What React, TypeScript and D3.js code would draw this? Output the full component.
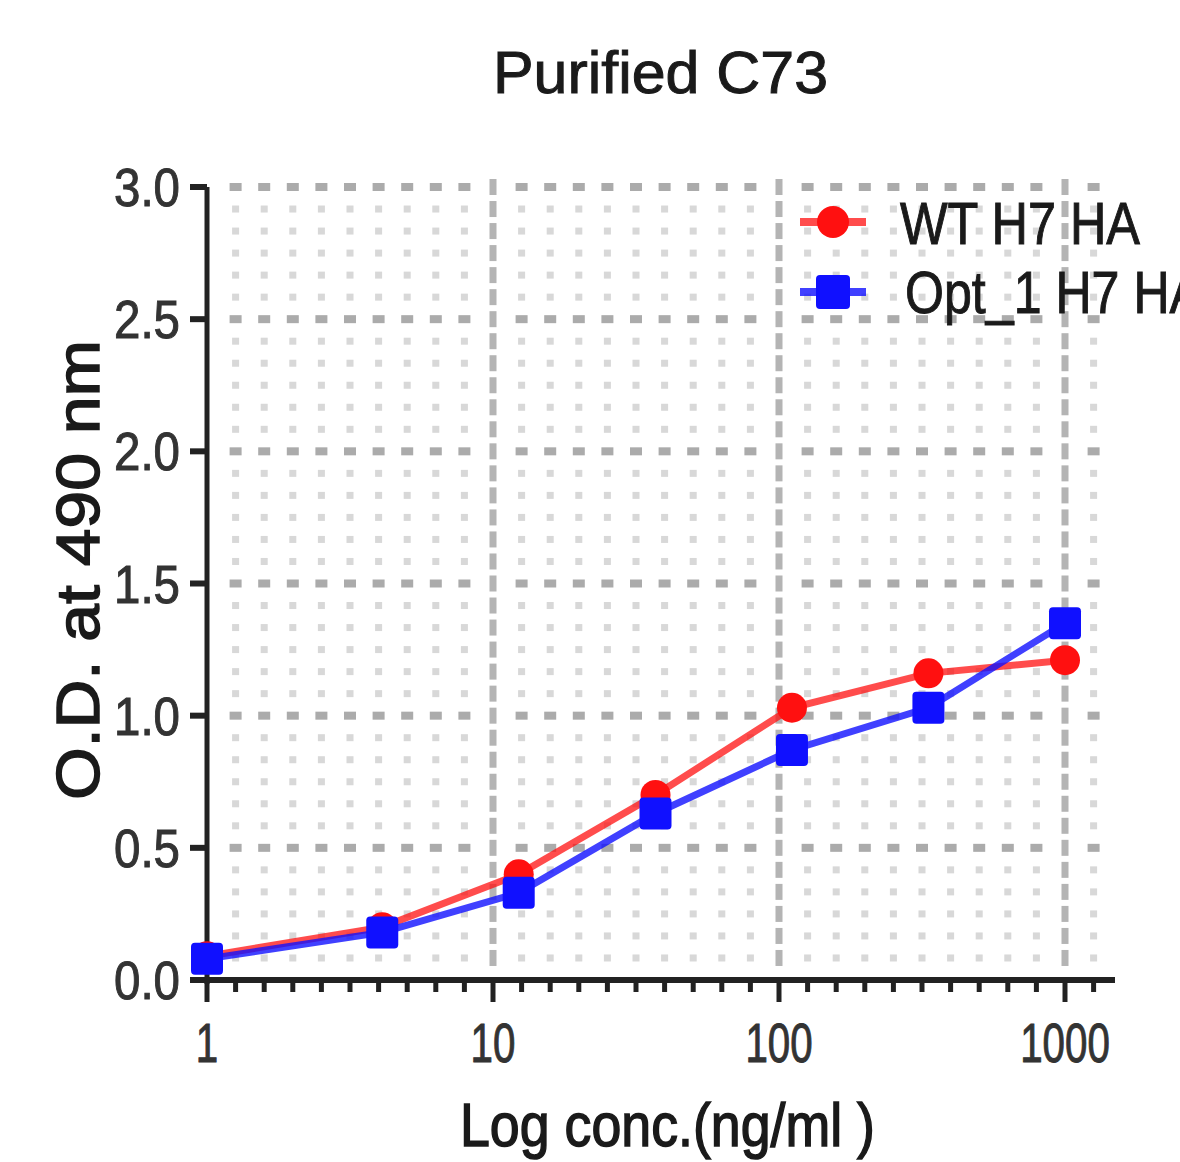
import React from "react";
import * as d3 from "d3";

// concentrations (ng/ml) and O.D. readings
const concentrations = [1, 4.1, 12.3, 37, 111, 333, 1000];
const wtH7HA = [0.09, 0.2, 0.4, 0.7, 1.03, 1.16, 1.21];
const opt1H7HA = [0.08, 0.18, 0.33, 0.63, 0.87, 1.03, 1.35];
const yTicks = [0, 0.5, 1.0, 1.5, 2.0, 2.5, 3.0];
const xTicks = [1, 10, 100, 1000];
const seriesNames = ["WT H7 HA", "Opt_1 H7 HA"];

const W = 1180;
const H = 1162;
const FONT = "'Liberation Sans', Arial, sans-serif";

const App = () => {
  const x = d3.scaleLog().domain([1, 1000]).range([207, 1065]);
  const y = d3.scaleLinear().domain([0, 3]).range([980, 187]);
  const xEnd = 1115;
  const maxLog = Math.log10(x.invert(1105));

  // minor ticks: ten evenly spaced (in log) per decade, like the original
  const minor: number[] = [];
  for (let k = 0; k <= 3; k++) {
    for (let i = 1; i <= 10; i++) {
      const l = k + i / 10;
      if (l <= maxLog + 1e-9) minor.push(Math.pow(10, l));
    }
  }
  const rows: number[] = [];
  for (let j = 1; j <= 36; j++) rows.push(j * (0.5 / 6));

  const line = d3
    .line<number>()
    .x((_, i) => x(concentrations[i]))
    .y((d) => y(d));

  const red = "#ff1010";
  const blue = "#1010ff";

  const isMajorCol = (v: number) => Math.abs(Math.log10(v) - Math.round(Math.log10(v))) < 1e-6;
  const isMajorRow = (v: number) => Math.abs(v / 0.5 - Math.round(v / 0.5)) < 1e-6;

  const txt = { fontFamily: FONT, fill: "#1a1a1a", stroke: "#1a1a1a", strokeWidth: 1 };

  return (
    <svg
      width={W}
      height={H}
      style={{ position: "absolute", left: 0, top: 0, background: "#fff" }}
    >
      {/* dotted grid */}
      <g>
        {minor.map((cx) =>
          rows.map((r) => {
            const px = x(cx);
            const py = y(r);
            if (isMajorCol(cx)) {
              return (
                <rect key={cx + "-" + r} x={px - 3.5} y={py - 8} width={7} height={16} fill="#b4b4b4" />
              );
            }
            if (isMajorRow(r)) {
              return (
                <rect key={cx + "-" + r} x={px - 6} y={py - 4} width={12} height={8} fill="#ababab" />
              );
            }
            return <rect key={cx + "-" + r} x={px - 3.5} y={py - 3.5} width={7} height={7} fill="#d8d8d8" />;
          })
        )}
      </g>

      {/* axes */}
      <line x1={207} x2={207} y1={y(3)} y2={y(0) + 4} stroke="#222" strokeWidth={5} />
      <line x1={194} x2={xEnd} y1={y(0)} y2={y(0)} stroke="#222" strokeWidth={6} />
      {yTicks.map((t) => (
        <g key={t}>
          <line x1={190} x2={207} y1={y(t)} y2={y(t)} stroke="#222" strokeWidth={6} />
          <text
            x={114}
            y={y(t) + 19}
            {...txt}
            fill="#333"
            stroke="#333"
            fontSize={54}
            textLength={66}
            lengthAdjust="spacingAndGlyphs"
          >
            {t.toFixed(1)}
          </text>
        </g>
      ))}
      {[1, ...minor].map((t) => (
        <line
          key={"xt" + t}
          x1={x(t)}
          x2={x(t)}
          y1={y(0)}
          y2={y(0) + (isMajorCol(t) ? 22 : 12)}
          stroke="#222"
          strokeWidth={5}
        />
      ))}
      {xTicks.map((t) => (
        <g key={"xl" + t} transform={`translate(${x(t)},1062) scale(0.72,1)`}>
          <text textAnchor="middle" {...txt} fill="#333" stroke="#333" fontSize={56}>
            {t}
          </text>
        </g>
      ))}

      {/* series */}
      <path d={line(wtH7HA) || ""} fill="none" stroke={red} strokeOpacity={0.75} strokeWidth={7} />
      {wtH7HA.map((v, i) => (
        <circle key={"r" + i} cx={x(concentrations[i])} cy={y(v)} r={15} fill={red} />
      ))}
      <path d={line(opt1H7HA) || ""} fill="none" stroke={blue} strokeOpacity={0.8} strokeWidth={7} />
      {opt1H7HA.map((v, i) => (
        <rect
          key={"b" + i}
          x={x(concentrations[i]) - 16}
          y={y(v) - 16}
          width={32}
          height={32}
          rx={4}
          fill={blue}
        />
      ))}

      {/* legend */}
      <g>
        <line x1={800} x2={866} y1={222} y2={222} stroke={red} strokeOpacity={0.75} strokeWidth={8} />
        <circle cx={833} cy={222} r={16} fill={red} />
        <text x={900} y={244} {...txt} fontSize={60} textLength={240} lengthAdjust="spacingAndGlyphs">
          {seriesNames[0]}
        </text>
        <line x1={800} x2={866} y1={292} y2={292} stroke={blue} strokeOpacity={0.8} strokeWidth={8} />
        <rect x={816} y={275} width={34} height={34} rx={4} fill={blue} />
        <text x={905} y={313} {...txt} fontSize={60} textLength={298} lengthAdjust="spacingAndGlyphs">
          {seriesNames[1]}
        </text>
      </g>

      {/* titles */}
      <text x={493} y={93} {...txt} fontSize={60} textLength={335} lengthAdjust="spacingAndGlyphs">
        Purified C73
      </text>
      <text
        transform="translate(99,800) rotate(-90)"
        {...txt}
        strokeWidth={1.5}
        fontSize={62}
        textLength={460}
        lengthAdjust="spacingAndGlyphs"
      >
        O.D. at 490 nm
      </text>
      <text x={460} y={1146} {...txt} strokeWidth={1.5} fontSize={62} textLength={415} lengthAdjust="spacingAndGlyphs">
        Log conc.(ng/ml )
      </text>
    </svg>
  );
};

export default App;
